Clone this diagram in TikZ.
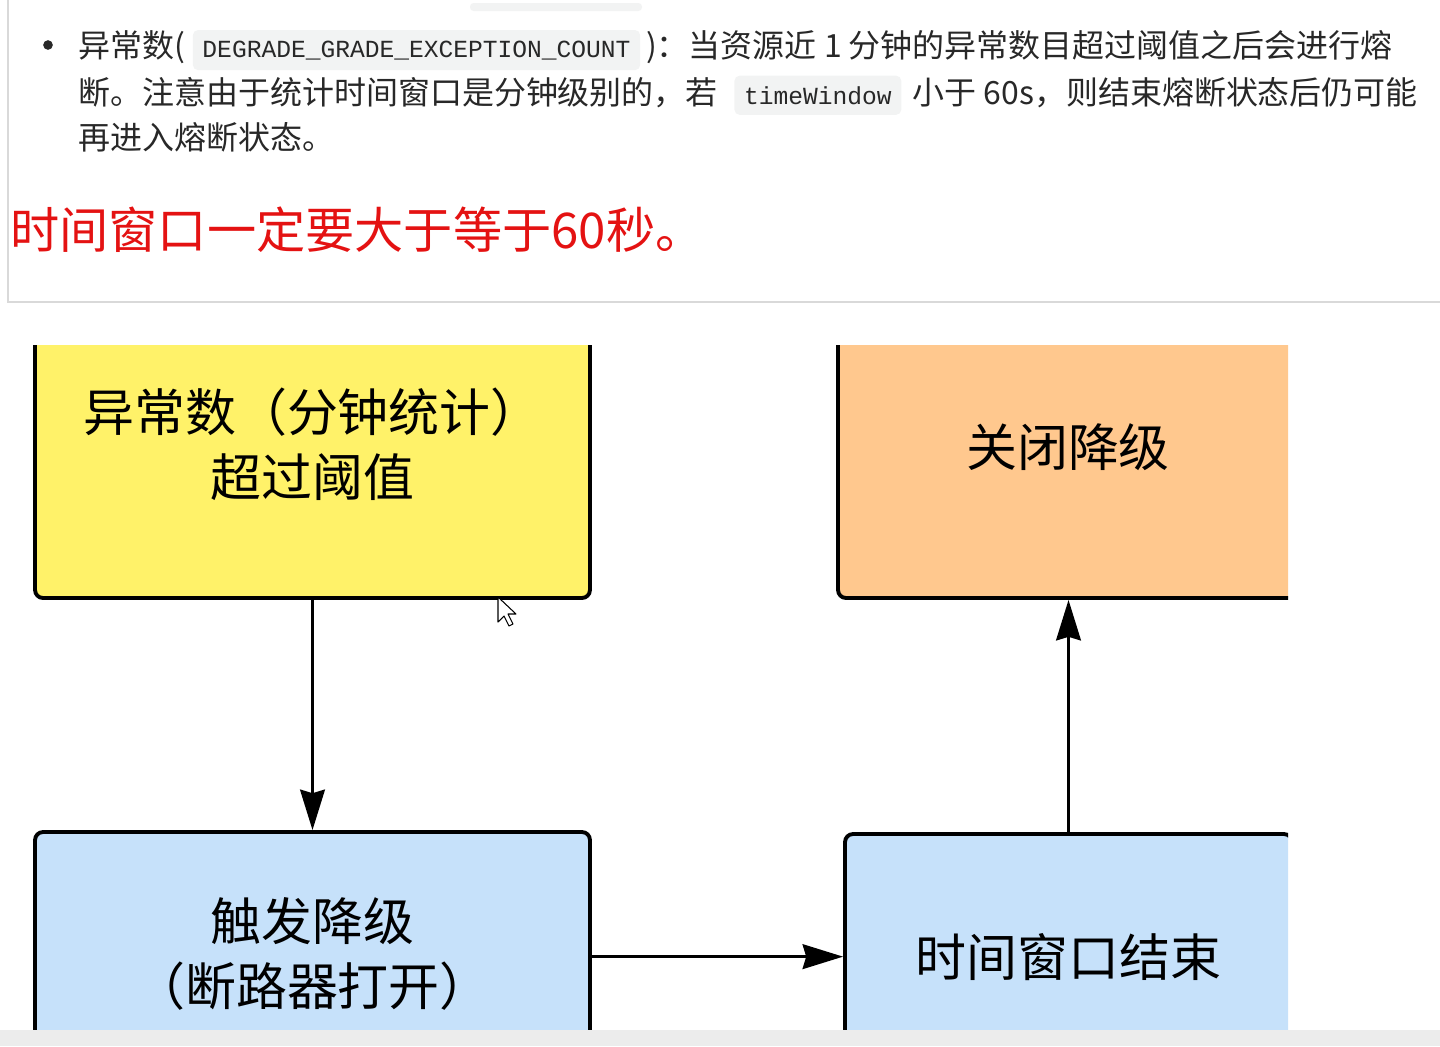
\documentclass[tikz,border=0pt]{standalone}
\usepackage{fontspec}
\newfontfamily\cjk{Noto Sans CJK SC}
\newfontfamily\mono{Liberation Mono}
\usetikzlibrary{arrows.meta,positioning}
\definecolor{boxyellow}{RGB}{255,242,105}
\definecolor{boxorange}{RGB}{255,200,142}
\definecolor{boxblue}{RGB}{198,225,250}
\definecolor{chipgray}{RGB}{242,243,243}
\definecolor{panelgray}{RGB}{217,217,217}
\definecolor{warnred}{RGB}{228,18,18}
\definecolor{bodytext}{RGB}{40,40,40}

\begin{document}
\begin{tikzpicture}[x=0.02cm, y=-0.02cm,
    para/.style={inner sep=0pt, anchor=base west, text=bodytext, font=\cjk\fontsize{18.2}{22}\selectfont},
    chip/.style={fill=chipgray, rounded corners=3pt, inner xsep=5.5pt, inner ysep=6pt, anchor=base west, text=bodytext, font=\mono\fontsize{14}{16}\selectfont},
    state/.style={draw=black, line width=2.2pt, rounded corners=4.5pt, font=\cjk\fontsize{29}{37}\selectfont, align=center},
    flow/.style={line width=2pt, -{Stealth[length=23pt, width=14pt, inset=2pt]}},
    >=Stealth
]
\useasboundingbox (0,0) rectangle (1440,1046);

% note panel
\fill[chipgray, rounded corners=2pt] (470,3) rectangle (642,11);
\draw[panelgray, line width=1pt] (8,0) -- (8,302) -- (1440,302);

\node[circle, fill=bodytext, inner sep=0pt, minimum size=5.5pt] (dot) at (48,45) {};
\node[para] (l1a) at (78,57) {异常数(};
\node[chip] (code1) at ([xshift=4pt]l1a.base east) {DEGRADE\_GRADE\_EXCEPTION\_COUNT};
\node[para] (l1b) at ([xshift=3pt]code1.base east) {)：当资源近 1 分钟的异常数目超过阈值之后会进行熔};
\node[para] (l2a) at (78,104) {断。注意由于统计时间窗口是分钟级别的，若};
\node[chip] (code2) at ([xshift=9pt]l2a.base east) {timeWindow};
\node[para] (l2b) at ([xshift=6pt]code2.base east) {小于 60s，则结束熔断状态后仍可能};
\node[para] (l3) at (78,149) {再进入熔断状态。};

\node[para, text=warnred, font=\cjk\fontsize{28}{32}\selectfont] (warn) at (10,248) {时间窗口一定要大于等于60秒。};

% flow
\begin{scope}
\clip (0,345) rectangle (1288,1030);
\node[state, fill=boxyellow, minimum width=11.1cm, minimum height=6.14cm] (count) at (312.5,444.5) {异常数（分钟统计）\\超过阈值};
\node[state, fill=boxorange, minimum width=9.2cm, minimum height=6.04cm] (closed) at (1068,447) {关闭降级};
\node[state, fill=boxblue, minimum width=11.1cm, minimum height=4.88cm] (open) at (312.5,954) {触发降级\\（断路器打开）};
\node[state, fill=boxblue, minimum width=8.94cm, minimum height=4.92cm] (ended) at (1068.5,957) {时间窗口结束};

\draw[flow] (count.south) -- (open.north);
\draw[flow] ([yshift=-1.5pt]open.east) -- ([yshift=-1.5pt]open.east -| ended.west);
\draw[flow] (ended.north) -- (ended.north |- closed.south);
\end{scope}

% pointer
\draw[fill=white, line width=0.6pt, line join=round] (498,597) -- ++(0,25) -- ++(6,-6) -- ++(5,10) -- ++(4,-2) -- ++(-5,-10) -- ++(8,0) -- cycle;

\fill[gray!15] (0,1030) rectangle (1440,1046);
\end{tikzpicture}
\end{document}
